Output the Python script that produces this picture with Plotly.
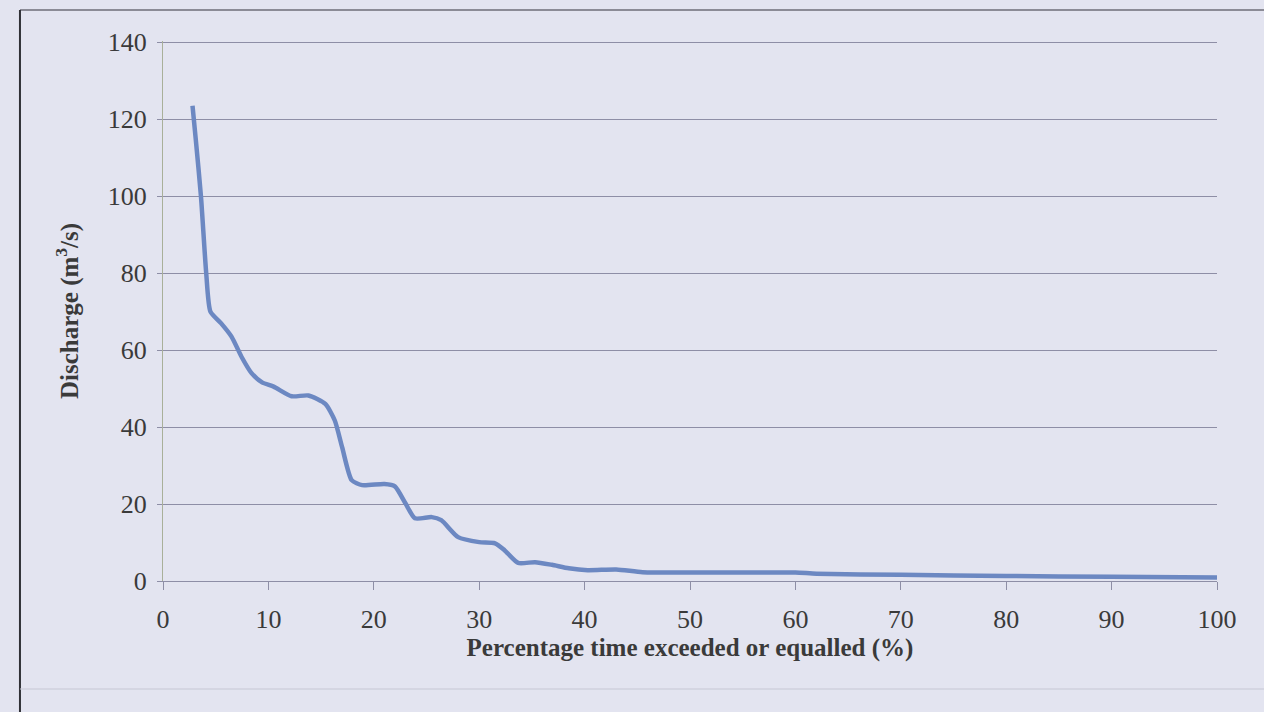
import plotly.graph_objects as go

# Flow duration curve: percentage of time a discharge is exceeded or equalled
pct_exceeded = [2.8, 3.1, 3.6, 4.1, 4.5, 5.5, 6.5, 7.5, 8.4, 9.4, 10.5, 12.2, 13.8,
                15.4, 16.3, 17.0, 17.9, 18.9, 21.0, 22.0, 23.0, 23.9, 25.5, 26.4,
                28.0, 30.0, 31.5, 32.4, 33.7, 35.3, 36.9, 38.5, 40.3, 43.0, 45.5,
                50.0, 55.0, 60.0, 62.0, 70.0, 80.0, 90.0, 100.0]
discharge = [123.5, 115.0, 100.0, 80.0, 70.0, 67.0, 63.5, 58.0, 54.0, 51.6, 50.5, 48.0, 48.2,
             46.0, 41.7, 34.7, 26.2, 24.9, 25.2, 24.6, 20.2, 16.3, 16.6, 15.8,
             11.4, 10.1, 9.8, 8.0, 4.7, 4.9, 4.2, 3.3, 2.8, 3.0, 2.3,
             2.2, 2.2, 2.2, 1.9, 1.6, 1.3, 1.1, 0.9]

x_ticks = [0, 10, 20, 30, 40, 50, 60, 70, 80, 90, 100]
y_ticks = [0, 20, 40, 60, 80, 100, 120, 140]

BG = "#e3e4f0"
GRID = "#8e8ea6"
TEXT = "#3a3a3a"
SERIF = "Liberation Serif, Times New Roman, serif"

fig = go.Figure()
fig.add_trace(go.Scatter(
    x=pct_exceeded, y=discharge, mode="lines",
    line=dict(color="#6c88c2", width=4.5, shape="spline", smoothing=0.6),
    showlegend=False, hoverinfo="x+y",
))

fig.update_layout(
    width=1264, height=712,
    margin=dict(l=163, r=47, t=41, b=131),
    paper_bgcolor=BG, plot_bgcolor=BG,
    font=dict(family=SERIF, color=TEXT, size=26),
    xaxis=dict(
        range=[0, 100], tickvals=x_ticks, ticktext=[str(v) for v in x_ticks],
        showgrid=False, zeroline=False,
        showline=True, linecolor=GRID, linewidth=1,
        ticks="outside", ticklen=8, tickcolor=GRID, tickwidth=1,
        ticklabelstandoff=7,
        tickfont=dict(family=SERIF, size=26, color=TEXT),
        title=dict(text="<b>Percentage time exceeded or equalled (%)</b>",
                   font=dict(family=SERIF, size=25, color=TEXT), standoff=0),
    ),
    yaxis=dict(
        range=[0, 140.3], tickvals=y_ticks, ticktext=[str(v) for v in y_ticks],
        showgrid=True, gridcolor=GRID, gridwidth=1, zeroline=False,
        showline=True, linecolor="#a9b09a", linewidth=1,
        ticks="outside", ticklen=5, tickcolor=GRID, tickwidth=1,
        ticklabelstandoff=5,
        tickfont=dict(family=SERIF, size=26, color=TEXT),
        title=dict(text="<b>Discharge (m<sup>3</sup>/s)</b>",
                   font=dict(family=SERIF, size=25, color=TEXT), standoff=22),
    ),
)

# Outer frame around the chart
frame = dict(xref="paper", yref="paper", layer="above")
fig.add_shape(type="line", x0=-0.1357, x1=1.05, y0=1.0574, y1=1.0574,
              line=dict(color="#6e6e78", width=1.5), **frame)
fig.add_shape(type="line", x0=-0.1357, x1=-0.1357, y0=1.0574, y1=-0.25,
              line=dict(color="#303036", width=2), **frame)
fig.add_shape(type="line", x0=-0.1357, x1=1.05, y0=-0.2, y1=-0.2,
              line=dict(color="#c6c7d4", width=1), **frame)

fig.write_html("out.html")
